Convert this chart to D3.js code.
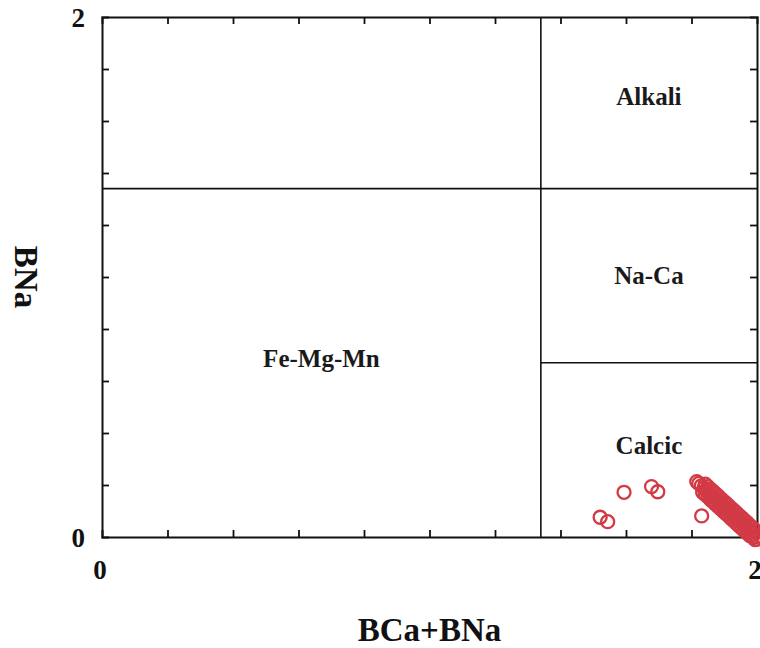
<!DOCTYPE html>
<html>
<head>
<meta charset="utf-8">
<script src="https://d3js.org/d3.v7.min.js"></script>
<style>
    body { margin: 0; background: #fff; }
    svg { font-family: "Liberation Serif", "Times New Roman", serif; font-weight: bold; }
    .frame line, .frame path { stroke: #111; }
    .region-line { stroke: #111; stroke-width: 1.6; }
    .pt { fill: none; stroke: #d23a45; stroke-width: 2.3; }
</style>
</head>
<body>
<div id="chart"></div>
<script>
    // amphibole group boundaries (Leake 1978)
    const boundaries = [
        { x1: 0, y1: 1.34, x2: 2, y2: 1.34 },
        { x1: 1.34, y1: 0, x2: 1.34, y2: 2 },
        { x1: 1.34, y1: 0.67, x2: 2, y2: 0.67 }
    ];
    const regionNames = ['Alkali', 'Na-Ca', 'Fe-Mg-Mn', 'Calcic'];
    const regionX = [1.67, 1.67, 0.67, 1.67];
    const regionY = [1.66, 0.975, 0.655, 0.32];

    // BCa+BNa and BNa of the analyses
    const bcaBna = [1.521, 1.544, 1.594, 1.678, 1.697, 1.831, 1.816,
        // middle of the band
        1.822, 1.830, 1.838, 1.846, 1.854, 1.862, 1.870, 1.878, 1.886, 1.894, 1.902, 1.910,
        1.918, 1.926, 1.934, 1.942, 1.950, 1.958, 1.966, 1.974, 1.982, 1.990, 1.998,
        // upper edge
        1.842, 1.850, 1.858, 1.866, 1.874, 1.882, 1.890, 1.898, 1.906, 1.914, 1.922,
        1.930, 1.938, 1.946, 1.954, 1.962, 1.970, 1.978, 1.986, 1.994,
        // lower edge
        1.834, 1.842, 1.850, 1.858, 1.866, 1.874, 1.882, 1.890, 1.898, 1.906, 1.914,
        1.922, 1.930, 1.938, 1.946, 1.954, 1.962, 1.970, 1.978, 1.986, 1.994, 2.000];
    const bna = [0.076, 0.059, 0.172, 0.194, 0.174, 0.081, 0.213,
        0.206, 0.197, 0.188, 0.178, 0.169, 0.160, 0.150, 0.141, 0.132, 0.123, 0.113, 0.104,
        0.095, 0.086, 0.076, 0.067, 0.058, 0.049, 0.039, 0.030, 0.021, 0.012, 0.002,
        0.203, 0.194, 0.184, 0.175, 0.166, 0.157, 0.147, 0.138, 0.129, 0.120, 0.110,
        0.101, 0.092, 0.082, 0.073, 0.064, 0.055, 0.045, 0.036, 0.027,
        0.172, 0.163, 0.154, 0.144, 0.135, 0.126, 0.117, 0.107, 0.098, 0.089, 0.080,
        0.070, 0.061, 0.052, 0.042, 0.033, 0.024, 0.015, 0.005, 0.000, -0.010, -0.008];

    const minorTicks = [0.2, 0.4, 0.6, 0.8, 1.0, 1.2, 1.4, 1.6, 1.8];
    const labelTicks = [0, 2];

    const margin = { top: 17, right: 3, bottom: 111, left: 102 };
    const W = 760, H = 648;
    const width = W - margin.left - margin.right;
    const height = H - margin.top - margin.bottom;

    const svg = d3.select('#chart').append('svg')
        .attr('width', W).attr('height', H);
    const g = svg.append('g')
        .attr('transform', `translate(${margin.left},${margin.top})`);

    const x = d3.scaleLinear().domain([0, 2]).range([0, width]);
    const y = d3.scaleLinear().domain([0, 2]).range([height, 0]);

    // inward ticks on all four sides
    const frame = g.append('g').attr('class', 'frame');
    frame.append('g').attr('transform', `translate(0,${height})`)
        .call(d3.axisBottom(x).tickValues(minorTicks).tickSize(-7).tickFormat(''));
    frame.append('g')
        .call(d3.axisTop(x).tickValues(minorTicks).tickSize(-7).tickFormat(''));
    frame.append('g')
        .call(d3.axisLeft(y).tickValues(minorTicks).tickSize(-7).tickFormat(''));
    frame.append('g').attr('transform', `translate(${width},0)`)
        .call(d3.axisRight(y).tickValues(minorTicks).tickSize(-7).tickFormat(''));
    frame.selectAll('.domain').attr('stroke-width', 2);
    frame.selectAll('.tick line').attr('stroke-width', 1.8);

    // tick labels 0 and 2 (plain text so the serif size sticks)
    g.selectAll('.xlab').data(labelTicks).enter().append('text')
        .attr('class', 'xlab')
        .attr('x', d => x(d) - 2)
        .attr('y', height + 42)
        .attr('text-anchor', 'middle')
        .attr('font-size', 27)
        .attr('fill', '#111')
        .text(d => d);
    g.selectAll('.ylab').data(labelTicks).enter().append('text')
        .attr('class', 'ylab')
        .attr('x', -17)
        .attr('y', d => y(d) + 10)
        .attr('text-anchor', 'end')
        .attr('font-size', 27)
        .attr('fill', '#111')
        .text(d => d);

    // boundaries
    g.selectAll('.region-line').data(boundaries).enter().append('line')
        .attr('class', 'region-line')
        .attr('x1', d => x(d.x1)).attr('y1', d => y(d.y1))
        .attr('x2', d => x(d.x2)).attr('y2', d => y(d.y2));

    g.selectAll('.region-label').data(regionNames).enter().append('text')
        .attr('class', 'region-label')
        .attr('x', (d, i) => x(regionX[i]))
        .attr('y', (d, i) => y(regionY[i]))
        .attr('text-anchor', 'middle')
        .attr('font-size', 25)
        .attr('fill', '#1a1a1a')
        .text(d => d);

    // analyses
    g.selectAll('.pt').data(bcaBna).enter().append('circle')
        .attr('class', 'pt')
        .attr('cx', d => x(d))
        .attr('cy', (d, i) => y(bna[i]))
        .attr('r', 6.5);

    // axis titles
    svg.append('text')
        .attr('x', margin.left + width / 2).attr('y', 641)
        .attr('text-anchor', 'middle').attr('font-size', 33).attr('fill', '#111')
        .text('BCa+BNa');
    svg.append('text')
        .attr('transform', `translate(15,${margin.top + height / 2}) rotate(90)`)
        .attr('text-anchor', 'middle').attr('font-size', 33).attr('fill', '#111')
        .text('BNa');
</script>
</body>
</html>
